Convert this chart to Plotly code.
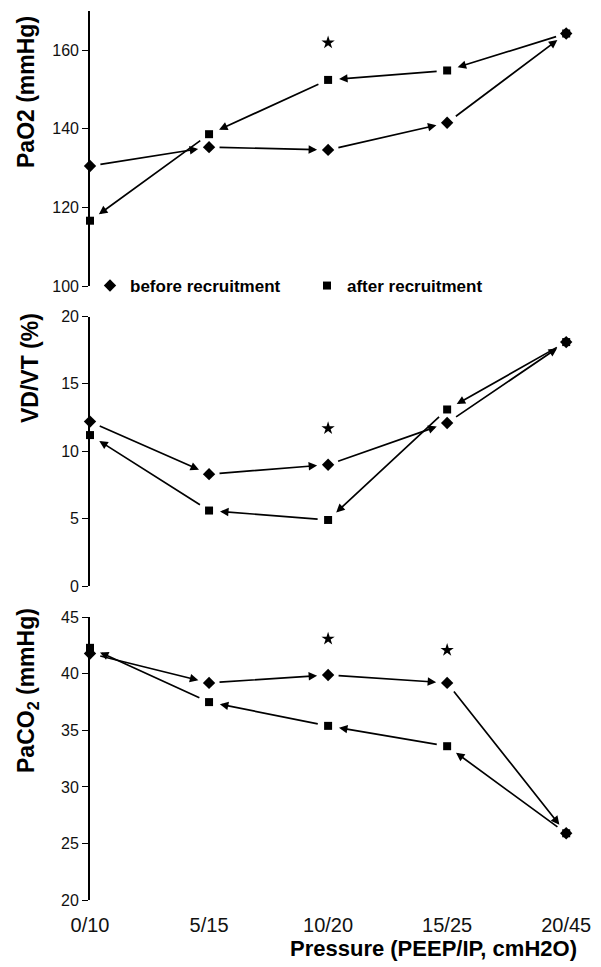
import plotly.graph_objects as go

# Ventilation step (PEEP / inspiratory pressure, cmH2O)
pressure_labels = ["0/10", "5/15", "10/20", "15/25", "20/45"]
steps = [0, 1, 2, 3, 4]

# PaO2 (mmHg)
pao2_before = [130.5, 135.3, 134.6, 141.5, 164.2]
pao2_after = [116.6, 138.6, 152.4, 154.8, 164.2]
# VD/VT (%)
vdvt_before = [12.2, 8.3, 9.0, 12.1, 18.1]
vdvt_after = [11.2, 5.6, 4.9, 13.1, 18.1]
# PaCO2 (mmHg)
paco2_before = [41.8, 39.2, 39.9, 39.2, 25.9]
paco2_after = [42.3, 37.5, 35.4, 33.6, 25.9]

# significance markers (step index, height)
pao2_sig_steps, pao2_sig_vals = [2], [161.9]
vdvt_sig_steps, vdvt_sig_vals = [2], [11.7]
paco2_sig_steps, paco2_sig_vals = [2, 3], [43.1, 42.1]

FONT = "Liberation Sans, Arial, sans-serif"
W, H = 601, 967

panels = [
    dict(ax="", before=pao2_before, after=pao2_after,
         sig_x=pao2_sig_steps, sig_y=pao2_sig_vals,
         rng=[100, 170], dtick=20, ydom=[(H - 286) / H, (H - 10.7) / H],
         title="PaO2 (mmHg)", tx=26, ty=92),
    dict(ax="2", before=vdvt_before, after=vdvt_after,
         sig_x=vdvt_sig_steps, sig_y=vdvt_sig_vals,
         rng=[0, 20], dtick=5, ydom=[(H - 586) / H, (H - 316.5) / H],
         title="VD/VT (%)", tx=30, ty=368),
    dict(ax="3", before=paco2_before, after=paco2_after,
         sig_x=paco2_sig_steps, sig_y=paco2_sig_vals,
         rng=[20, 45], dtick=5, ydom=[(H - 900) / H, (H - 617.3) / H],
         title="PaCO<sub>2</sub> (mmHg)", tx=27, ty=691),
]

fig = go.Figure()
annotations = []
xdom = [90 / W, 590 / W]

for k, p in enumerate(panels):
    xr, yr = "x" + p["ax"], "y" + p["ax"]
    first = k == 0
    fig.add_trace(go.Scatter(
        x=steps, y=p["before"], mode="markers", name="before recruitment",
        legendgroup="before", showlegend=first, cliponaxis=False,
        marker=dict(symbol="diamond", size=9.5, color="black"),
        xaxis=xr, yaxis=yr))
    fig.add_trace(go.Scatter(
        x=steps, y=p["after"], mode="markers", name="after recruitment",
        legendgroup="after", showlegend=first, cliponaxis=False,
        marker=dict(symbol="square", size=8, color="black"),
        xaxis=xr, yaxis=yr))
    fig.add_trace(go.Scatter(
        x=p["sig_x"], y=p["sig_y"], mode="markers", showlegend=False,
        cliponaxis=False, marker=dict(symbol="star", size=10, color="black"),
        xaxis=xr, yaxis=yr))

    # before recruitment: pressure increased step by step
    for i in range(len(steps) - 1):
        annotations.append(dict(
            x=steps[i + 1], y=p["before"][i + 1], ax=steps[i], ay=p["before"][i],
            xref=xr, yref=yr, axref=xr, ayref=yr, text="", showarrow=True,
            arrowhead=2, arrowsize=1, arrowwidth=1.7, arrowcolor="black",
            standoff=11, startstandoff=9))
    # after recruitment: pressure decreased step by step
    for i in range(len(steps) - 1, 0, -1):
        annotations.append(dict(
            x=steps[i - 1], y=p["after"][i - 1], ax=steps[i], ay=p["after"][i],
            xref=xr, yref=yr, axref=xr, ayref=yr, text="", showarrow=True,
            arrowhead=2, arrowsize=1, arrowwidth=1.7, arrowcolor="black",
            standoff=11, startstandoff=9))

    annotations.append(dict(
        x=p["tx"] / W, y=(H - p["ty"]) / H, xref="paper", yref="paper",
        text="<b>" + p["title"] + "</b>", textangle=-90, showarrow=False,
        xanchor="center", yanchor="middle",
        font=dict(family=FONT, size=23, color="black")))

    last = k == len(panels) - 1
    fig.update_layout(**{
        "xaxis" + p["ax"]: dict(
            domain=xdom, range=[0, 4.2], anchor=yr, showline=False,
            showgrid=False, zeroline=False, ticks="", automargin=False,
            tickvals=steps, ticktext=pressure_labels, showticklabels=last,
            ticklabelstandoff=11,
            tickfont=dict(family=FONT, size=20, color="#111")),
        "yaxis" + p["ax"]: dict(
            domain=p["ydom"], range=p["rng"], dtick=p["dtick"], anchor=xr,
            showline=True, linecolor="black", linewidth=1.6 if not last else 2,
            ticks="outside", ticklen=6, tickwidth=1.3, tickcolor="black",
            showgrid=False, zeroline=False, automargin=False,
            tickfont=dict(family=FONT, size=16, color="#111")),
    })

annotations.append(dict(
    x=433 / W, y=(H - 948) / H, xref="paper", yref="paper",
    text="<b>Pressure (PEEP/IP, cmH2O)</b>", showarrow=False,
    xanchor="center", yanchor="middle",
    font=dict(family=FONT, size=22, color="black")))

fig.update_layout(
    width=W, height=H, margin=dict(l=0, r=0, t=0, b=0, autoexpand=False),
    paper_bgcolor="white", plot_bgcolor="white",
    font=dict(family=FONT, color="black"),
    annotations=annotations,
    showlegend=True,
    legend=dict(
        orientation="h", x=90 / W, y=(H - 286) / H, xanchor="left",
        yanchor="middle", entrywidthmode="pixels", entrywidth=172,
        bgcolor="rgba(0,0,0,0)",
        font=dict(family=FONT, size=17, color="black", weight="bold")),
)

fig.write_html("out.html")
